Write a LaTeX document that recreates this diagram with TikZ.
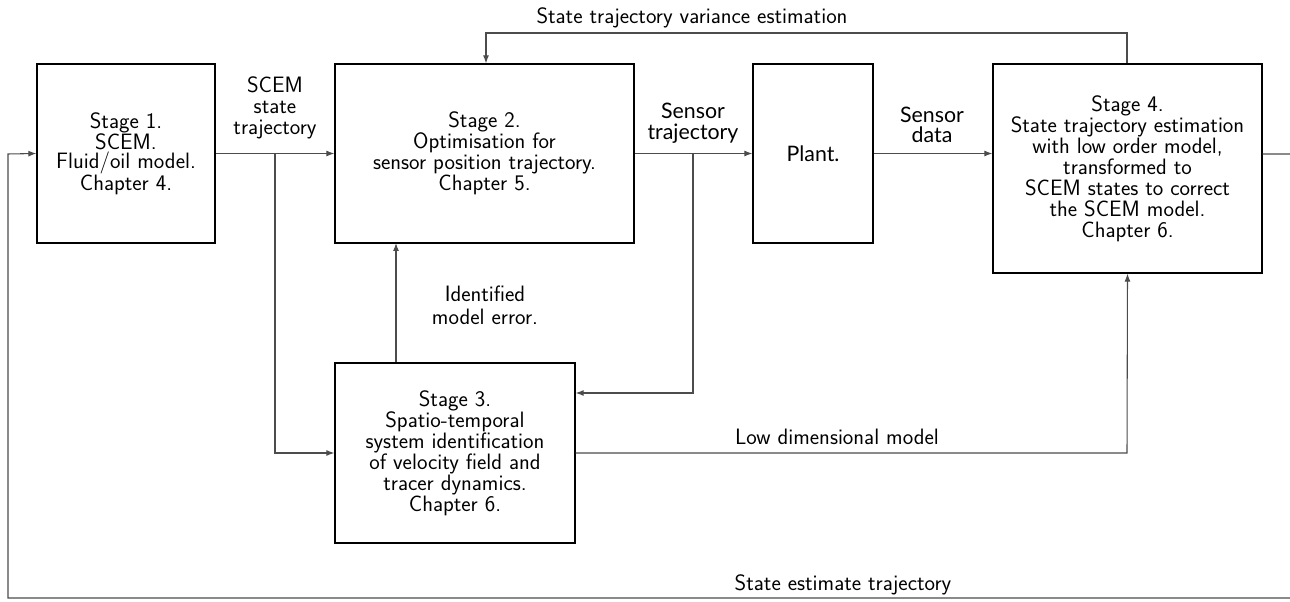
\documentclass[tikz,border=0pt]{standalone}
\usepackage{fontspec}
\setsansfont{Latin Modern Sans}
\newfontfamily\latofont{Lato}
\usetikzlibrary{arrows.meta}
\tikzset{
  block/.style={draw=black, line width=1pt, align=center, inner sep=0pt,
    font=\sffamily\fontsize{16.7}{15.8}\selectfont},
  conn/.style={draw=black!70, line width=0.8pt},
  arr/.style={conn, -{Latex[length=6pt,width=4.5pt]}},
  lab/.style={align=center, inner sep=0pt, font=\sffamily\fontsize{16.7}{16}\selectfont},
  latolab/.style={align=center, inner sep=0pt, font=\latofont\fontsize{16}{15.4}\selectfont},
}
\begin{document}
\begin{tikzpicture}[x=0.75pt, y=-0.75pt]
\useasboundingbox (0,0) rectangle (1290,602);
\node[block, minimum width=133.5pt, minimum height=134.25pt, font=\sffamily\fontsize{16.7}{13.7}\selectfont] (s1) at (126,153.5)
  {Stage 1.\\SCEM.\\Fluid/oil model.\\Chapter 4.};
\node[block, minimum width=224.25pt, minimum height=134.25pt] (s2) at (484.5,153.5)
  {Stage 2.\\Optimisation for\\sensor position trajectory.\\Chapter 5.};
\node[block, minimum width=90pt, minimum height=134.25pt, font=\latofont\fontsize{16}{15.4}\selectfont] (pl) at (813,153.5)
  {Plant.};
\node[block, minimum width=201.75pt, minimum height=156.75pt] (s4) at (1127.5,168.5)
  {Stage 4.\\State trajectory estimation\\with low order model,\\transformed to\\SCEM states to correct\\the SCEM model.\\Chapter 6.};
\node[block, minimum width=180pt, minimum height=135pt] (s3) at (455,453)
  {Stage 3.\\Spatio-temporal\\system identification\\of velocity field and\\tracer dynamics.\\Chapter 6.};

% junctions and corners
\coordinate (j1) at (275,154);
\coordinate (j1b) at (275,453);
\coordinate (j2) at (693,154);
\coordinate (j2b) at (693,393);
\coordinate (c3) at (1127,453);
\coordinate (t1) at (1127,33);
\coordinate (t2) at (486,33);
\coordinate (r1) at (1292,154);
\coordinate (r2) at (1292,598);
\coordinate (b1) at (8,598);
\coordinate (b2) at (8,154);

\draw[arr] (s1.east) -- (s2.west);
\draw[arr] (j1) -- (j1b) -- (s3.west);
\draw[arr] (s2.east) -- (pl.west);
\draw[arr] (j2) -- (j2b) -- (s3.east |- j2b);
\draw[arr] (pl.east) -- (s4.west |- pl.east);
\draw[arr] (s3.north -| 396,0) -- (396,243);
\draw[arr] (s3.east) -- (c3) -- (s4.south);
\draw[arr] (s4.north -| t1) -- (t1) -- (t2) -- (s2.north -| t2);
\draw[arr] (s4.east |- r1) -- (r1) -- (r2) -- (b1) -- (b2) -- (s1.west);

% labels
\node[lab] (l1) at (275,108) {SCEM\\state\\trajectory};
\node[latolab] (l2) at (693,123) {Sensor\\trajectory};
\node[latolab] (l3) at (932,125) {Sensor\\data};
\node[lab, font=\sffamily\fontsize{16.7}{17}\selectfont] (l4) at (485,305) {Identified\\model error.};
\node[lab] (l5) at (692,18) {State trajectory variance estimation};
\node[lab] (l6) at (837,437) {Low dimensional model};
\node[lab] (l7) at (843,585) {State estimate trajectory};
\end{tikzpicture}
\end{document}
